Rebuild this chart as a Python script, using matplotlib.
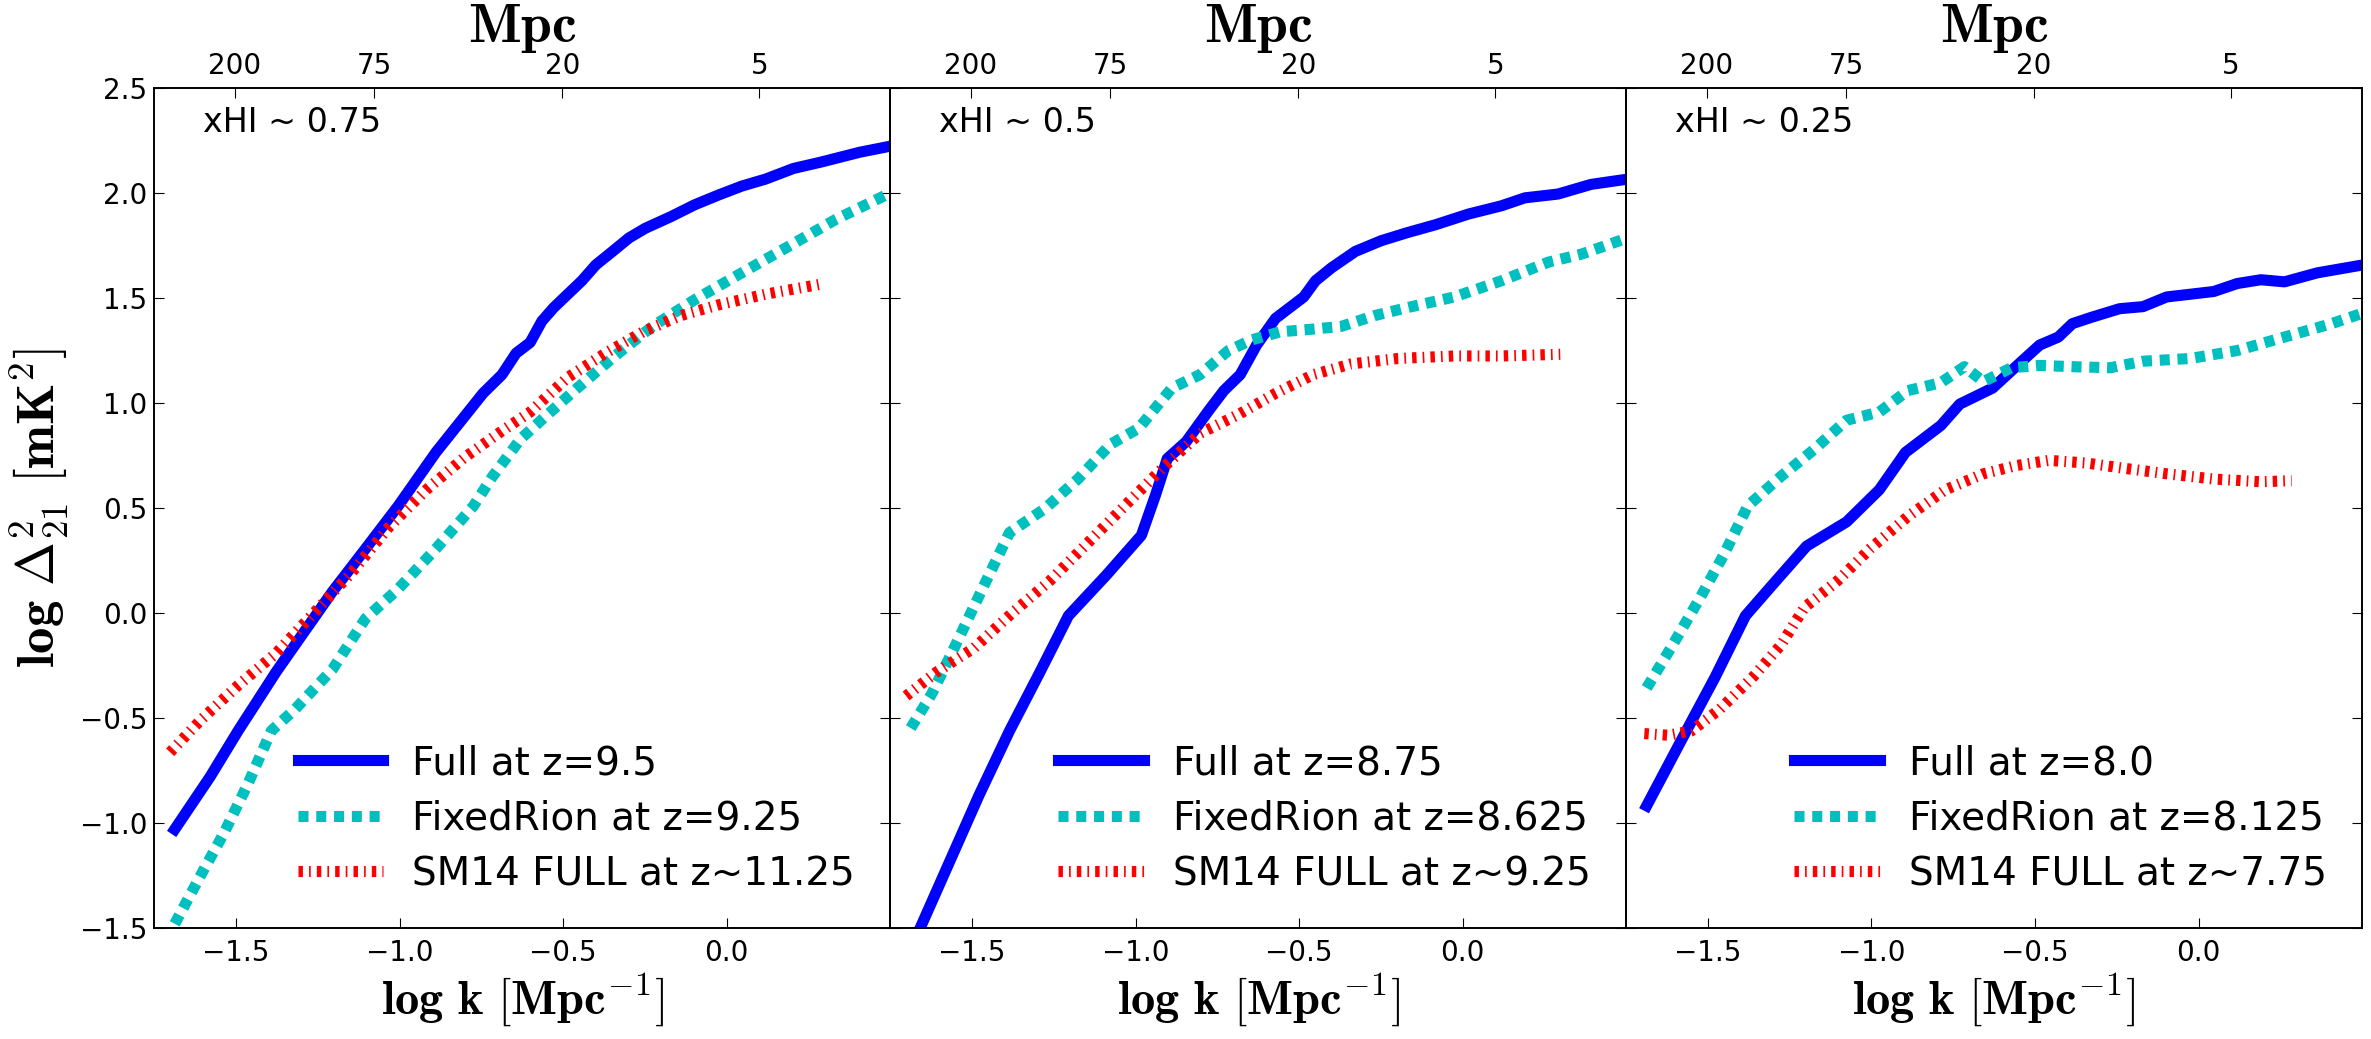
"""
21cm power spectra at three neutral fractions: Full vs FixedRion vs SM14
"""
import numpy as np
import matplotlib
matplotlib.use('Agg')
import matplotlib.pyplot as plt

plt.rcParams['mathtext.fontset'] = 'cm'
plt.rcParams['font.family'] = 'DejaVu Sans'

# panel labels and legend labels
xhi_labels = ['xHI ~ 0.75', 'xHI ~ 0.5', 'xHI ~ 0.25']
full_labels = ['Full at z=9.5', 'Full at z=8.75', 'Full at z=8.0']
fixed_labels = ['FixedRion at z=9.25', 'FixedRion at z=8.625', 'FixedRion at z=8.125']
sm14_labels = ['SM14 FULL at z~11.25', 'SM14 FULL at z~9.25', 'SM14 FULL at z~7.75']

# top axis scales (Mpc)
scale_mpc = [200, 75, 20, 5]

# ---- panel 1 (xHI ~ 0.75) ----
full1_k = [-1.687, -1.579, -1.493, -1.377, -1.320, -1.205, -1.104, -1.004, -0.889, -0.745,
           -0.687, -0.644, -0.601, -0.565, -0.529, -0.486, -0.443, -0.400, -0.349, -0.299,
           -0.249, -0.170, -0.098, -0.026, 0.046, 0.118, 0.204, 0.290, 0.406, 0.503]
full1_p = [-1.03, -0.78, -0.56, -0.28, -0.153, 0.102, 0.306, 0.51, 0.765, 1.046,
           1.135, 1.237, 1.288, 1.39, 1.454, 1.518, 1.582, 1.658, 1.722, 1.786,
           1.832, 1.888, 1.944, 1.99, 2.033, 2.066, 2.117, 2.148, 2.194, 2.224]
fixed1_k = [-1.687, -1.608, -1.536, -1.464, -1.392, -1.320, -1.205, -1.104, -1.004, -0.889,
            -0.774, -0.716, -0.630, -0.558, -0.457, -0.342, -0.227, -0.098, 0.046, 0.190,
            0.334, 0.503]
fixed1_p = [-1.48, -1.25, -1.046, -0.816, -0.561, -0.459, -0.268, -0.026, 0.115, 0.306,
            0.51, 0.65, 0.829, 0.931, 1.071, 1.224, 1.365, 1.492, 1.62, 1.747,
            1.875, 2.003]
sm1_k = [-1.701, -1.608, -1.493, -1.377, -1.262, -1.147, -1.033, -0.918, -0.802, -0.687,
         -0.601, -0.486, -0.371, -0.256, -0.141, -0.026, 0.118, 0.298]
sm1_p = [-0.663, -0.510, -0.344, -0.191, 0.0, 0.191, 0.408, 0.587, 0.740, 0.867,
         0.957, 1.122, 1.237, 1.339, 1.416, 1.467, 1.518, 1.569]

# ---- panel 2 (xHI ~ 0.5) ----
full2_k = [-1.69, -1.658, -1.565, -1.478, -1.385, -1.292, -1.205, -1.090, -0.982, -0.939,
           -0.903, -0.845, -0.774, -0.730, -0.680, -0.630, -0.572, -0.529, -0.486, -0.450,
           -0.400, -0.328, -0.249, -0.170, -0.083, 0.018, 0.118, 0.190, 0.291, 0.392, 0.503]
full2_p = [-1.6, -1.5, -1.173, -0.867, -0.561, -0.281, -0.013, 0.179, 0.370, 0.561,
           0.735, 0.816, 0.969, 1.059, 1.135, 1.276, 1.403, 1.454, 1.505, 1.582,
           1.645, 1.722, 1.773, 1.811, 1.849, 1.9, 1.939, 1.977, 1.995, 2.041, 2.066]
fixed2_k = [-1.687, -1.622, -1.550, -1.464, -1.385, -1.277, -1.176, -1.076, -0.990, -0.889,
            -0.803, -0.716, -0.644, -0.558, -0.457, -0.371, -0.270, -0.170, -0.026, 0.118,
            0.262, 0.363, 0.503]
fixed2_p = [-0.548, -0.383, -0.153, 0.128, 0.383, 0.497, 0.638, 0.804, 0.880, 1.071,
            1.135, 1.25, 1.301, 1.339, 1.352, 1.365, 1.416, 1.454, 1.505, 1.582,
            1.671, 1.709, 1.786]
sm2_k = [-1.701, -1.608, -1.493, -1.377, -1.262, -1.147, -1.033, -0.918, -0.803, -0.687,
         -0.572, -0.457, -0.342, -0.198, -0.026, 0.118, 0.298]
sm2_p = [-0.395, -0.281, -0.166, 0.0, 0.153, 0.332, 0.510, 0.689, 0.855, 0.944,
         1.046, 1.135, 1.186, 1.212, 1.224, 1.224, 1.232]

# ---- panel 3 (xHI ~ 0.25) ----
full3_k = [-1.687, -1.579, -1.478, -1.385, -1.292, -1.198, -1.076, -0.976, -0.896, -0.788,
           -0.730, -0.630, -0.544, -0.486, -0.429, -0.386, -0.328, -0.242, -0.170, -0.098,
           0.046, 0.118, 0.190, 0.262, 0.363, 0.503]
full3_p = [-0.918, -0.60, -0.306, -0.013, 0.153, 0.319, 0.434, 0.587, 0.765, 0.893,
           0.995, 1.071, 1.194, 1.276, 1.314, 1.378, 1.408, 1.449, 1.459, 1.505,
           1.531, 1.569, 1.587, 1.577, 1.620, 1.658]
fixed3_k = [-1.687, -1.608, -1.522, -1.450, -1.378, -1.277, -1.176, -1.076, -0.976, -0.889,
            -0.788, -0.716, -0.658, -0.572, -0.486, -0.385, -0.270, -0.170, -0.026, 0.118,
            0.262, 0.406, 0.503]
fixed3_p = [-0.357, -0.153, 0.077, 0.281, 0.510, 0.650, 0.778, 0.918, 0.957, 1.059,
            1.097, 1.173, 1.102, 1.168, 1.179, 1.173, 1.168, 1.199, 1.212, 1.25,
            1.314, 1.378, 1.429]
sm3_k = [-1.694, -1.622, -1.550, -1.464, -1.363, -1.277, -1.205, -1.104, -1.004, -0.889,
         -0.774, -0.658, -0.558, -0.457, -0.342, -0.227, -0.098, 0.046, 0.190, 0.284]
sm3_p = [-0.574, -0.582, -0.561, -0.459, -0.306, -0.153, 0.026, 0.153, 0.306, 0.459,
         0.587, 0.663, 0.702, 0.727, 0.714, 0.689, 0.663, 0.638, 0.625, 0.630]

panels = [
    (full1_k, full1_p, fixed1_k, fixed1_p, sm1_k, sm1_p),
    (full2_k, full2_p, fixed2_k, fixed2_p, sm2_k, sm2_p),
    (full3_k, full3_p, fixed3_k, fixed3_p, sm3_k, sm3_p),
]

fig, axes = plt.subplots(1, 3, figsize=(23.71, 10.39), dpi=100, sharey=True)
fig.subplots_adjust(left=0.065, right=0.9962, bottom=0.1068, top=0.9153, wspace=0)

for i, ax in enumerate(axes):
    fk, fp, xk, xp, sk, sp = panels[i]
    ax.plot(fk, fp, color='#0000ff', lw=8, label=full_labels[i])
    ax.plot(xk, xp, color='#00bfbf', lw=8, linestyle=(0, (0.9, 0.7)), label=fixed_labels[i])
    ax.plot(sk, sp, color='#ff0000', lw=8, linestyle=(0, (0.4, 0.55, 0.15, 0.55)),
            label=sm14_labels[i])

    ax.set_xlim(-1.75, 0.499)
    ax.set_ylim(-1.5, 2.5)
    ax.set_xticks([-1.5, -1.0, -0.5, 0.0])
    ax.set_yticks(np.arange(-1.5, 2.51, 0.5))
    ax.tick_params(direction='in', length=7, labelsize=20, top=False, right=True)
    ax.tick_params(axis='x', pad=8)
    ax.tick_params(axis='y', pad=5)
    ax.set_xlabel(r'$\mathbf{log\ k\ [Mpc^{-1}]}$', fontsize=35, labelpad=2)

    ax.text(0.067, 0.948, xhi_labels[i], transform=ax.transAxes, fontsize=24,
            va='baseline', ha='left')

    ax.legend(loc='lower right', frameon=False, fontsize=28, handlelength=2.2,
              handletextpad=0.75, labelspacing=0.45, borderaxespad=0.5)

    # top axis in Mpc
    top = ax.twiny()
    top.set_xlim(ax.get_xlim())
    top.set_xticks(np.log10(2 * np.pi / np.array(scale_mpc)))
    top.set_xticklabels([str(s) for s in scale_mpc])
    top.tick_params(direction='in', length=7, labelsize=20, pad=6)
    top.set_xlabel(r'$\mathbf{Mpc}$', fontsize=40, labelpad=7)

    for sp_ in list(ax.spines.values()) + list(top.spines.values()):
        sp_.set_linewidth(1.2)

axes[0].set_ylabel(r'$\mathbf{log\ \Delta^2_{21}\ [mK^2]}$', fontsize=38, labelpad=6)

plt.savefig('out.png', dpi=100)
